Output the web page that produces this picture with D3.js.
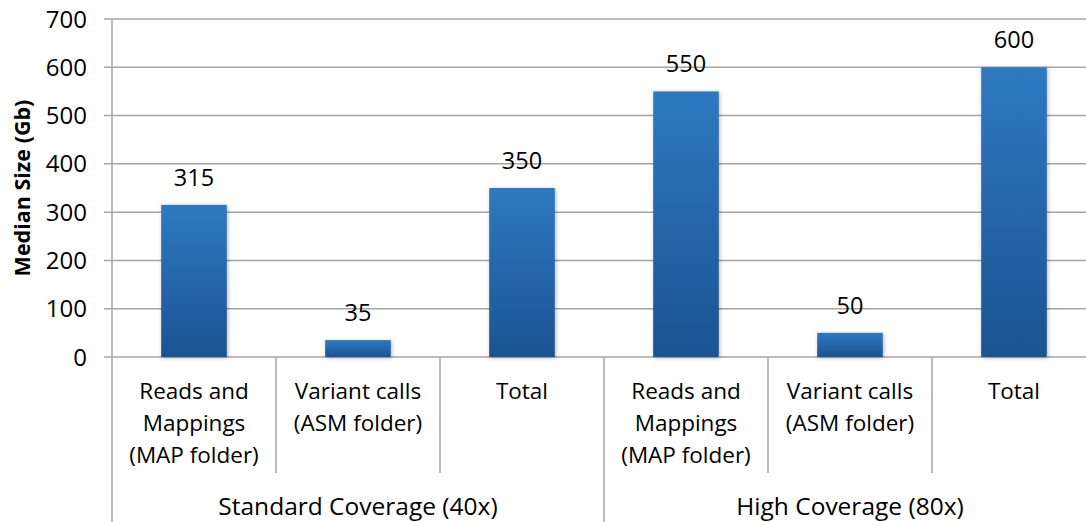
<!DOCTYPE html>
<html>
<head>
<meta charset="utf-8">
<script src="https://cdn.jsdelivr.net/npm/d3@7"></script>
<style>
  body { margin: 0; background: #fff; }
  text { font-family: "Open Sans", Lato, sans-serif; fill: #000; }
</style>
</head>
<body>
<script>
// data
const categories = [
  ["Reads and", "Mappings", "(MAP folder)"],
  ["Variant calls", "(ASM folder)"],
  ["Total"],
  ["Reads and", "Mappings", "(MAP folder)"],
  ["Variant calls", "(ASM folder)"],
  ["Total"]
];
const groups = ["Standard Coverage (40x)", "High Coverage (80x)"];
const groupSize = [3, 3];
const values = [315, 35, 350, 550, 50, 600];
const yTicks = [0, 100, 200, 300, 400, 500, 600, 700];

const W = 1086, H = 522;
const svg = d3.select("body").append("svg")
    .attr("width", W)
    .attr("height", H);

// gradiente das barras
const grad = svg.append("defs").append("linearGradient")
    .attr("id", "barGrad")
    .attr("x1", 0).attr("y1", 0).attr("x2", 0).attr("y2", 1);
grad.append("stop").attr("offset", "0%").attr("stop-color", "#2E79C1");
grad.append("stop").attr("offset", "100%").attr("stop-color", "#1B5391");

const x = d3.scaleBand()
    .domain(d3.range(values.length))
    .range([112, 1096]);

const y = d3.scaleLinear()
    .domain([0, 700])
    .range([357, 19]);

// grade
svg.append("g").selectAll("line")
    .data(yTicks)
    .join("line")
    .attr("x1", 104)
    .attr("x2", W)
    .attr("y1", d => y(d))
    .attr("y2", d => y(d))
    .attr("stroke", "#A5A5A5")
    .attr("stroke-width", 1.5);

// eixo y
svg.append("g").selectAll("text")
    .data(yTicks)
    .join("text")
    .attr("x", 87)
    .attr("y", d => y(d))
    .attr("dy", "0.36em")
    .attr("text-anchor", "end")
    .attr("font-size", 24)
    .text(d => d);

svg.append("text")
    .attr("transform", `translate(30,${(y(0) + y(700)) / 2}) rotate(-90)`)
    .attr("text-anchor", "middle")
    .attr("font-size", 21.5)
    .attr("font-weight", "bold")
    .text("Median Size (Gb)");

// linha do eixo y
svg.append("line")
    .attr("x1", 112).attr("x2", 112)
    .attr("y1", y(700)).attr("y2", H)
    .attr("stroke", "#A5A5A5")
    .attr("stroke-width", 1.5);

// barras
const bw = x.bandwidth() * 0.4;
svg.append("g").selectAll("rect")
    .data(values)
    .join("rect")
    .attr("x", (d, i) => x(i) + (x.bandwidth() - bw) / 2)
    .attr("y", d => y(d))
    .attr("width", bw)
    .attr("height", d => y(0) - y(d))
    .attr("fill", "url(#barGrad)")
    .style("filter", "drop-shadow(1px 1px 2px rgba(0,0,0,0.3))");

// rotulos de valor
svg.append("g").selectAll("text")
    .data(values)
    .join("text")
    .attr("x", (d, i) => x(i) + x.bandwidth() / 2)
    .attr("y", d => y(d) - 19)
    .attr("text-anchor", "middle")
    .attr("font-size", 23.5)
    .text(d => d);

// eixo x: separadores das categorias
let start = 0;
const groupBounds = groupSize.map(n => {
  const b = [start, start + n];
  start += n;
  return b;
});
const catSeps = d3.range(1, values.length).filter(i => !groupBounds.some(b => b[0] === i));
svg.append("g").selectAll("line")
    .data(catSeps)
    .join("line")
    .attr("x1", i => x(i)).attr("x2", i => x(i))
    .attr("y1", y(0)).attr("y2", 473)
    .attr("stroke", "#A5A5A5")
    .attr("stroke-width", 1.5);

svg.append("g").selectAll("line")
    .data(groupBounds.slice(1))
    .join("line")
    .attr("x1", b => x(b[0])).attr("x2", b => x(b[0]))
    .attr("y1", y(0)).attr("y2", H)
    .attr("stroke", "#A5A5A5")
    .attr("stroke-width", 1.5);

// rotulos das categorias
const catLabels = svg.append("g").selectAll("text")
    .data(categories)
    .join("text")
    .attr("text-anchor", "middle")
    .attr("font-size", 22.5);
catLabels.selectAll("tspan")
    .data((d, i) => d.map(s => ({ s, i })))
    .join("tspan")
    .attr("x", d => x(d.i) + x.bandwidth() / 2)
    .attr("y", (d, j) => 399 + j * 32)
    .text(d => d.s);

// rotulos dos grupos
svg.append("g").selectAll("text")
    .data(groups)
    .join("text")
    .attr("x", (d, i) => (x(groupBounds[i][0]) + x(groupBounds[i][1] - 1) + x.bandwidth()) / 2)
    .attr("y", 515)
    .attr("text-anchor", "middle")
    .attr("font-size", 24.5)
    .text(d => d);
</script>
</body>
</html>
